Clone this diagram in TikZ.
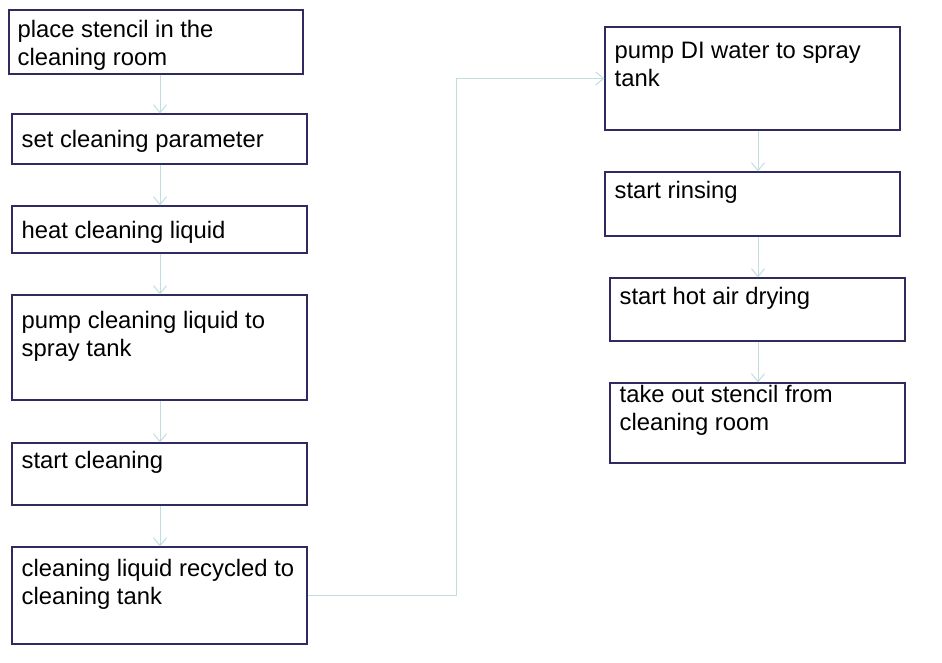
\documentclass[tikz,border=0pt]{standalone}
\usepackage{fontspec}
\setmainfont{Liberation Sans}
\usetikzlibrary{arrows.meta}
\definecolor{boxline}{HTML}{2F2A5F}
\definecolor{conn}{HTML}{C3DCDF}
\tikzset{
  box/.style={draw=boxline, line width=1.1pt, rectangle, inner sep=0pt, fill=white},
  txt/.style={anchor=base west, inner sep=0pt, align=left, font=\fontsize{23.8}{28}\selectfont, text=black},
  conline/.style={draw=conn, line width=1pt, -{Straight Barb[length=8pt,width=13pt,line width=1pt]}}
}
\begin{document}
\begin{tikzpicture}[x=1pt,y=-1pt]
\useasboundingbox (0,0) rectangle (942,662);
% left column boxes
\node[box, minimum width=294pt, minimum height=64pt] (b1) at (156,42) {};
\node[box, minimum width=295pt, minimum height=50pt] (b2) at (159.5,139) {};
\node[box, minimum width=295pt, minimum height=47pt] (b3) at (159.5,229.5) {};
\node[box, minimum width=295pt, minimum height=105pt] (b4) at (159.5,347.5) {};
\node[box, minimum width=295pt, minimum height=62pt] (b5) at (159.5,474) {};
\node[box, minimum width=295pt, minimum height=97pt] (b6) at (159.5,595.5) {};
% right column boxes
\node[box, minimum width=295pt, minimum height=103pt] (b7) at (752.5,78.5) {};
\node[box, minimum width=295pt, minimum height=64pt] (b8) at (752.5,204) {};
\node[box, minimum width=295pt, minimum height=63pt] (b9) at (757.5,309.5) {};
\node[box, minimum width=295pt, minimum height=80pt] (b10) at (757.5,423) {};
% texts (base anchor = last line baseline)
\node[txt] (t1) at (17.5,65) {place stencil in the\\cleaning room};
\node[txt] (t2) at (21.5,147.5) {set cleaning parameter};
\node[txt] (t3) at (21.5,238.5) {heat cleaning liquid};
\node[txt] (t4) at (21.5,356.5) {pump cleaning liquid to\\spray tank};
\node[txt] (t5) at (21.5,468.5) {start cleaning};
\node[txt] (t6) at (21.5,604.5) {cleaning liquid recycled to\\cleaning tank};
\node[txt] (t7) at (614.5,86.5) {pump DI water to spray\\tank};
\node[txt] (t8) at (614.5,198.5) {start rinsing};
\node[txt] (t9) at (619.5,304.5) {start hot air drying};
\node[txt] (t10) at (619.5,430.5) {take out stencil from\\cleaning room};
% connectors
\coordinate (lx) at (160,0);
\coordinate (rx) at (758,0);
\coordinate (mid) at (456,0);
\draw[conline] (lx |- b1.south) -- (lx |- b2.north);
\draw[conline] (lx |- b2.south) -- (lx |- b3.north);
\draw[conline] (lx |- b3.south) -- (lx |- b4.north);
\draw[conline] (lx |- b4.south) -- (lx |- b5.north);
\draw[conline] (lx |- b5.south) -- (lx |- b6.north);
\draw[conline] (b6.east) -- (b6.east -| mid) -- (mid |- b7.west) -- (b7.west);
\draw[conline] (rx |- b7.south) -- (rx |- b8.north);
\draw[conline] (rx |- b8.south) -- (rx |- b9.north);
\draw[conline] (rx |- b9.south) -- (rx |- b10.north);
\end{tikzpicture}
\end{document}
